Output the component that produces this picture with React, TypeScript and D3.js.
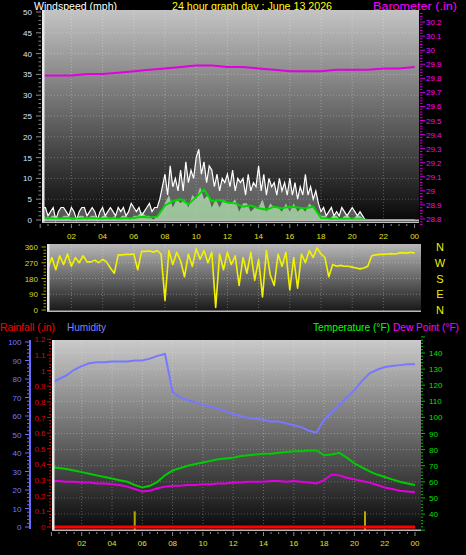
import React from "react";
import * as d3 from "d3";

// ---------- DATA ----------
const hourLabels = ["02", "04", "06", "08", "10", "12", "14", "16", "18", "20", "22", "00"];
const windTicks = [0, 5, 10, 15, 20, 25, 30, 35, 40, 45, 50];
const baroTicks = [28.8, 28.9, 29, 29.1, 29.2, 29.3, 29.4, 29.5, 29.6, 29.7, 29.8, 29.9, 30, 30.1, 30.2];
const dirTicks = [0, 90, 180, 270, 360];
const compass = ["N", "E", "S", "W", "N"];
const humTicks = [0, 10, 20, 30, 40, 50, 60, 70, 80, 90, 100];
const rainTicks = [0, 0.1, 0.2, 0.3, 0.4, 0.5, 0.6, 0.7, 0.8, 0.9, 1, 1.1, 1.2];
const tempTicks = [40, 50, 60, 70, 80, 90, 100, 110, 120, 130, 140];

// wind gust (mph), every 10 min from 00:00 to 24:00
const gust = [
  2, 3, 3, 1, 2, 3, 0, 2, 3, 3, 2, 1, 3, 2, 0, 2, 3, 3, 1, 2, 3, 2, 0, 2, 3, 1, 2, 3, 2, 1,
  3, 2, 3, 1, 2, 4, 3, 2, 3, 1, 2, 3, 4, 2, 3,
  3, 5, 8,
  11, 6, 13, 8, 10, 7,
  12, 7, 14, 9, 12, 10,
  15, 17, 11, 14, 9, 13,
  12, 8, 11, 7, 10, 9,
  11, 8, 12, 7, 10, 9,
  10, 6, 11, 7, 9, 8,
  13, 7, 11, 6, 10, 8,
  9, 6, 10, 7, 9, 6,
  10, 6, 9, 5, 8, 6,
  11, 6, 8, 5, 7, 4,
  2, 3, 1, 2, 3, 1,
  2, 1, 3, 2, 1, 2,
  3, 2, 1, 2, 1, 0,
  0, 0, 0, 0, 0, 0, 0, 0, 0, 0, 0, 0, 0, 0, 0, 0, 0, 0, 0,
];
// wind speed (mph), every 15 min
const speed = [
  1, 1, 0, 1, 1, 0, 1, 1, 0,
  0, 1, 1, 0, 1, 1, 0, 1,
  1, 0, 1, 0, 1, 1, 0, 1,
  1, 2, 1, 1, 0, 1,
  2, 4,
  6, 3, 5, 4,
  5, 3, 6, 5,
  8, 5, 6, 3,
  5, 3, 5, 4,
  4, 5, 2, 4,
  4, 2, 3, 3,
  5, 2, 4, 3,
  3, 2, 4, 2,
  4, 2, 3, 2,
  4, 3, 2, 1,
  1, 0, 1, 1,
  0, 1, 1, 0,
  1, 1, 0, 0,
  0, 0, 0, 0, 0, 0, 0, 0, 0, 0, 0, 0,
];
// average wind (mph), every 30 min
const avgWind = [
  0.5, 0.5, 0.3, 0.5, 0.4, 0.3, 0.5, 0.4, 0.3, 0.5, 0.3, 0.4, 0.5, 0.8, 0.6, 0.8,
  3.5, 4.5, 5, 3.8, 5.5, 7.3, 4.5, 4.8, 4.2, 4, 3.2, 3.5, 2.8, 2.5, 3.2, 2.8,
  3.2, 3, 2.8, 3.2, 0.5, 0.3, 0.2, 0.3, 0.2, 0.2, 0, 0, 0, 0, 0, 0, 0,
];
// barometer (in), hourly
const baro = [
  29.82, 29.82, 29.82, 29.83, 29.83, 29.84, 29.85, 29.86, 29.87, 29.88, 29.89, 29.89, 29.88,
  29.88, 29.87, 29.86, 29.85, 29.85, 29.85, 29.86, 29.86, 29.86, 29.87, 29.87, 29.88,
];
// wind direction (deg), every 15 min
const direction = [
  260, 290, 240, 300, 230, 310, 260, 320, 250, 300, 270, 310, 275, 275, 285, 270,
  290, 275, 240, 210, 315, 315, 318, 318, 320, 230, 335, 335, 338, 330, 340, 320,
  55, 340, 260, 330, 280, 190, 320, 250, 350, 290, 340, 270, 330, 15, 320, 230,
  330, 260, 310, 140, 300, 210, 330, 170, 290, 75, 340, 200, 140, 320, 250, 330,
  115, 300, 125, 320, 270, 340, 300, 355, 320, 300, 190, 260, 250, 255, 250, 250,
  245, 240, 235, 240, 250, 310, 315, 318, 318, 320, 322, 320, 325, 328, 325, 330, 325,
];
// humidity (%), every 30 min
const humidity = [
  78, 80, 82, 85, 87, 88.5, 89, 89, 89.5, 89.5, 89.5, 90, 90, 91, 92.5, 93.5,
  73, 70, 68.5, 67.5, 66, 65, 64, 62.5, 61, 60, 59, 58.5, 58, 57, 57, 56,
  55, 54, 52, 51, 58, 62, 66, 70, 74, 79, 83, 85, 86.5, 87, 87.5, 88, 88,
];
// temperature (F), every 30 min
const temperature = [
  69, 68.5, 68, 67, 66, 65, 64, 63, 62, 61, 60, 58, 56.5, 57.5, 60, 64,
  67, 68.5, 70, 71, 72, 73, 74, 74.5, 75, 76, 76.5, 77, 77.5, 77.5, 78, 78.5,
  79, 79, 79.5, 79.5, 76.5, 77, 78, 75, 71.5, 69, 66.5, 64.5, 63, 61.5, 60, 59, 58,
];
// dew point (F), every 30 min
const dewPoint = [
  60.5, 60.5, 60, 60, 59.5, 59.5, 59, 59, 58.5, 58, 57, 55.5, 54, 54.5, 56, 57,
  57.5, 57.5, 58, 58, 58.5, 58.5, 59, 59, 59.5, 59.5, 60, 60, 60, 60.5, 60.5, 60,
  60.5, 60, 59.5, 59, 61, 64.5, 64, 62.5, 61.5, 60.5, 59.5, 58, 56.5, 55.5, 54.5, 54, 53.5,
];
// rainfall (in), every 6 h
const rainfall = [0, 0, 0, 0, 0];
// rain markers: hour, value (in)
const rainMarkHours = [5.5, 20.7];
const rainMarkValues = [0.1, 0.1];

const FONT = "'Liberation Sans', Arial, sans-serif";

export default function App() {
  const xTop = d3.scaleLinear().domain([0, 24]).range([40.2, 414.6]);
  const xBot = d3.scaleLinear().domain([0, 24]).range([51.4, 415]);
  const yWind = d3.scaleLinear().domain([0, 50]).range([220, 12]);
  const yBaro = d3.scaleLinear().domain([28.8, 30.2]).range([219, 22]);
  const yDir = d3.scaleLinear().domain([0, 360]).range([310, 247]);
  const yHum = d3.scaleLinear().domain([0, 100]).range([527, 342]);
  const yRain = d3.scaleLinear().domain([0, 1.2]).range([527, 339.3]);
  const yTemp = d3.scaleLinear().domain([40, 140]).range([514, 353]);

  const lineOf = (x: any, y: any, step: number) =>
    d3.line<number>().x((_, i) => x(i * step)).y((d) => y(d));
  const areaOf = (x: any, y: any, step: number) =>
    d3.area<number>().x((_, i) => x(i * step)).y0(y(0)).y1((d) => y(d));

  const top = { x0: 42, x1: 419, y0: 10, y1: 223 };
  const mid = { x0: 47, x1: 421, y0: 244, y1: 312 };
  const bot = { x0: 52, x1: 421, y0: 340, y1: 531 };

  const evenHours = d3.range(2, 25, 2);
  const halfHours = d3.range(0, 24.01, 0.5);

  const gridV = (x: any, r: any) =>
    evenHours.slice(0, -1).map((h) => (
      <line key={"gv" + h} x1={x(h)} x2={x(h)} y1={r.y0} y2={r.y1} stroke="#fff" strokeOpacity={0.28} strokeDasharray="1,2" />
    ));

  const hdr = (x: number, y: number, w: number, fill: string, s: string, fs = 11.5) => (
    <text x={x} y={y} fill={fill} fontSize={fs} textLength={w} lengthAdjust="spacingAndGlyphs">{s}</text>
  );

  return (
    <svg width={466} height={555} style={{ position: "absolute", left: 0, top: 0, background: "#000" }} fontFamily={FONT}>
      <defs>
        <linearGradient id="gTop" x1="0" y1="0" x2="0" y2="1">
          <stop offset="0" stopColor="#c4c4c4" />
          <stop offset="1" stopColor="#060606" />
        </linearGradient>
        <linearGradient id="gMid" x1="0" y1="0" x2="0" y2="1">
          <stop offset="0" stopColor="#b8b8b8" />
          <stop offset="1" stopColor="#161616" />
        </linearGradient>
        <linearGradient id="gBot" x1="0" y1="0" x2="0" y2="1">
          <stop offset="0" stopColor="#cacaca" />
          <stop offset="1" stopColor="#080808" />
        </linearGradient>
        <clipPath id="cTop"><rect x={top.x0} y={top.y0} width={top.x1 - top.x0} height={top.y1 - top.y0} /></clipPath>
        <clipPath id="cMid"><rect x={mid.x0} y={mid.y0} width={mid.x1 - mid.x0} height={mid.y1 - mid.y0} /></clipPath>
        <clipPath id="cBot"><rect x={bot.x0} y={bot.y0} width={bot.x1 - bot.x0} height={bot.y1 - bot.y0} /></clipPath>
      </defs>
      <rect x={0} y={0} width={466} height={555} fill="#000" />

      {/* ===== headers ===== */}
      <g>
        {hdr(34, 9.5, 83, "#ffffff", "Windspeed (mph)")}
        {hdr(172, 9.5, 160, "#ffff00", "24 hour graph day : June 13 2026")}
        {hdr(373, 9.5, 84, "#ff00ff", "Barometer (.in)")}
        {hdr(0, 331, 55, "#ff0000", "Rainfall (.in)")}
        {hdr(67, 331, 39, "#8080ff", "Humidity")}
        {hdr(313, 331, 77, "#00ff00", "Temperature (°F)", 10)}
        {hdr(393, 331, 66, "#ff00ff", "Dew Point (°F)", 10)}
      </g>

      {/* ===== TOP CHART ===== */}
      <rect x={top.x0} y={top.y0} width={top.x1 - top.x0} height={top.y1 - top.y0} fill="url(#gTop)" />
      <g clipPath="url(#cTop)">
        {windTicks.slice(1, -1).map((t) => (
          <line key={"wg" + t} x1={top.x0} x2={top.x1} y1={yWind(t)} y2={yWind(t)} stroke="#fff" strokeOpacity={0.25} strokeDasharray="1,2" />
        ))}
        {gridV(xTop, top)}
        <path d={lineOf(xTop, yBaro, 1)(baro) || ""} fill="none" stroke="#e000e0" strokeWidth={2} />
        <path d={areaOf(xTop, yWind, 1 / 6)(gust) || ""} fill="#c8c8c8" fillOpacity={0.4} />
        <path d={lineOf(xTop, yWind, 1 / 6)(gust) || ""} fill="none" stroke="#ffffff" strokeWidth={1.2} />
        <path d={areaOf(xTop, yWind, 0.25)(speed) || ""} fill="#b8f0b8" fillOpacity={0.7} />
        <path d={lineOf(xTop, yWind, 0.5)(avgWind) || ""} fill="none" stroke="#00d800" strokeWidth={2} />
        <rect x={top.x0} y={219.5} width={top.x1 - top.x0} height={1.5} fill="#b8b8b8" />
      </g>
      <rect x={top.x0} y={top.y0} width={2.5} height={top.y1 - top.y0} fill="#e8e8e8" />
      <rect x={top.x0} y={top.y1 - 1.5} width={top.x1 - top.x0} height={1.5} fill="#c0c0c0" />
      {d3.range(0, 51, 1).map((t) => (
        <line key={"wt" + t} x1={t % 5 === 0 ? 36 : 38.5} x2={41} y1={yWind(t)} y2={yWind(t)} stroke="#8a8a8a" strokeWidth={1} />
      ))}
      {windTicks.map((t) => (
        <text key={"wl" + t} x={32} y={yWind(t) + 3} fontSize={8} fill="#dfe6ff" textAnchor="end">{t}</text>
      ))}
      {d3.range(-2, 74, 1).map((i) => {
        const v = 28.8 + i * 0.02;
        return <line key={"bt" + i} x1={420} x2={i % 5 === 0 ? 425 : 422.5} y1={yBaro(v)} y2={yBaro(v)} stroke="#d000d0" strokeWidth={1} />;
      })}
      {baroTicks.map((t) => (
        <text key={"bl" + t} x={426} y={yBaro(t) + 3} fontSize={8} fill="#ff00ff">{t}</text>
      ))}
      {halfHours.map((h, i) => (
        <line key={"xt" + i} x1={xTop(h)} x2={xTop(h)} y1={224} y2={i % 4 === 0 ? 228 : 226} stroke="#8a8a8a" />
      ))}
      {hourLabels.map((l, i) => (
        <text key={"xl" + l} x={xTop(evenHours[i])} y={238.5} fontSize={8} fill="#e0e020" textAnchor="middle">{l}</text>
      ))}

      {/* ===== MIDDLE CHART ===== */}
      <rect x={mid.x0} y={mid.y0} width={mid.x1 - mid.x0} height={mid.y1 - mid.y0} fill="url(#gMid)" />
      <g clipPath="url(#cMid)">
        {dirTicks.slice(1, -1).map((t) => (
          <line key={"dg" + t} x1={mid.x0} x2={mid.x1} y1={yDir(t)} y2={yDir(t)} stroke="#fff" strokeOpacity={0.3} strokeDasharray="1,2" />
        ))}
        {gridV(xTop, mid)}
        <path d={lineOf(xTop, yDir, 0.25)(direction) || ""} fill="none" stroke="#f2f200" strokeWidth={1.6} strokeLinejoin="round" />
      </g>
      <rect x={mid.x0} y={mid.y0} width={2.5} height={mid.y1 - mid.y0} fill="#e8e8e8" />
      <rect x={mid.x0} y={mid.y1 - 1.5} width={mid.x1 - mid.x0} height={1.5} fill="#b8b8b8" />
      {d3.range(0, 361, 18).map((t) => (
        <line key={"dt" + t} x1={t % 90 === 0 ? 41.5 : 43.5} x2={46} y1={yDir(t)} y2={yDir(t)} stroke="#a8a000" />
      ))}
      {dirTicks.map((t) => (
        <text key={"dl" + t} x={38} y={yDir(t) + 3} fontSize={8} fill="#d8d820" textAnchor="end">{t}</text>
      ))}
      {dirTicks.map((t, i) => (
        <text key={"cl" + i} x={440} y={yDir(t) + 4} fontSize={11} fill="#eeee00" textAnchor="middle">{compass[i]}</text>
      ))}

      {/* ===== BOTTOM CHART ===== */}
      <rect x={bot.x0} y={bot.y0} width={bot.x1 - bot.x0} height={bot.y1 - bot.y0} fill="url(#gBot)" />
      <g clipPath="url(#cBot)">
        {tempTicks.map((t) => (
          <line key={"tg" + t} x1={bot.x0} x2={bot.x1} y1={yTemp(t)} y2={yTemp(t)} stroke="#fff" strokeOpacity={0.25} strokeDasharray="1,2" />
        ))}
        {gridV(xBot, bot)}
        {rainMarkHours.map((h, i) => (
          <rect key={"rm" + i} x={xBot(h) - 1} y={yRain(rainMarkValues[i])} width={2} height={bot.y1 - yRain(rainMarkValues[i])} fill="#b8a800" />
        ))}
        <path d={lineOf(xBot, yHum, 0.5)(humidity) || ""} fill="none" stroke="#7878ff" strokeWidth={2} />
        <path d={lineOf(xBot, yTemp, 0.5)(temperature) || ""} fill="none" stroke="#00cc00" strokeWidth={2} />
        <path d={lineOf(xBot, yTemp, 0.5)(dewPoint) || ""} fill="none" stroke="#e000e0" strokeWidth={2} />
        <path d={lineOf(xBot, yRain, 6)(rainfall) || ""} fill="none" stroke="#ff0000" strokeWidth={3} />
      </g>
      <rect x={bot.x0} y={bot.y0} width={2.5} height={bot.y1 - bot.y0} fill="#e8e8e8" />
      <rect x={bot.x0} y={bot.y1 - 1.5} width={bot.x1 - bot.x0} height={1.5} fill="#b8b8b8" />
      <line x1={30} x2={30} y1={yHum(100) - 2} y2={yHum(0) + 2} stroke="#6c6cff" strokeWidth={2} />
      {d3.range(0, 101, 2).map((t) => (
        <line key={"ht" + t} x1={t % 10 === 0 ? 25 : 27} x2={30} y1={yHum(t)} y2={yHum(t)} stroke="#6c6cff" />
      ))}
      {humTicks.map((t) => (
        <text key={"hl" + t} x={21.5} y={yHum(t) + 3} fontSize={8} fill="#7878ff" textAnchor="end">{t}</text>
      ))}
      {d3.range(0, 61, 1).map((i) => (
        <line key={"rt" + i} x1={i % 5 === 0 ? 47 : 49} x2={51} y1={yRain(i * 0.02)} y2={yRain(i * 0.02)} stroke="#e00000" />
      ))}
      {rainTicks.map((t) => (
        <text key={"rl" + t} x={45.5} y={yRain(t) + 3} fontSize={8} fill="#e00000" textAnchor="end">{t}</text>
      ))}
      {d3.range(30, 151, 2).map((t) => (
        <line key={"tt" + t} x1={421} x2={t % 10 === 0 ? 425 : 423} y1={yTemp(t)} y2={yTemp(t)} stroke="#00c000" />
      ))}
      {tempTicks.map((t) => (
        <text key={"tl" + t} x={429} y={yTemp(t) + 3} fontSize={8} fill="#00e000">{t}</text>
      ))}
      {halfHours.map((h, i) => (
        <line key={"bxt" + i} x1={xBot(h)} x2={xBot(h)} y1={532} y2={i % 4 === 0 ? 536 : 534} stroke="#8a8a8a" />
      ))}
      {hourLabels.map((l, i) => (
        <text key={"bxl" + l} x={xBot(evenHours[i])} y={545.5} fontSize={8} fill="#e0e020" textAnchor="middle">{l}</text>
      ))}
    </svg>
  );
}
